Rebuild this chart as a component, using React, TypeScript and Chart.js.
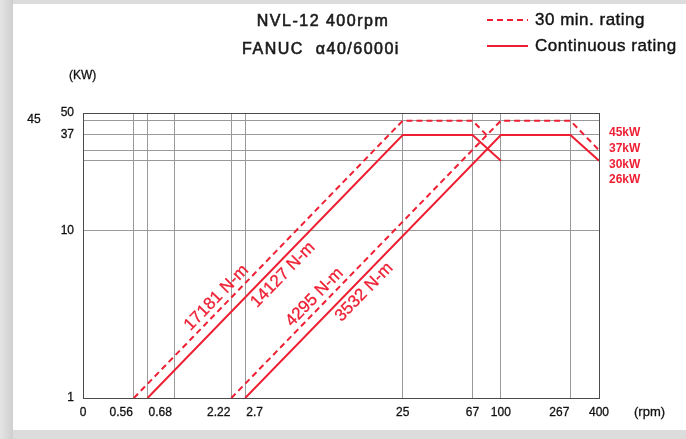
import React, { useEffect, useRef } from 'react';
import { Chart, registerables } from 'chart.js';

Chart.register(...registerables);

const RED = '#ee1f33';
const FONT = "'Liberation Sans', Arial, sans-serif";

// X axis (rpm, logarithmic). The left end is labelled "0".
const rpmMin = 0.273;
const rpmMax = 400;
const rpmTicks = [0.273, 0.56, 0.68, 1, 2.22, 2.7, 25, 67, 100, 267, 400];
const rpmTickLabels = ['0', '0.56', '0.68', '', '2.22', '2.7', '25', '67', '100', '267', '400'];
const rpmTickAlign = ['center', 'right', 'left', 'center', 'right', 'left', 'center', 'center', 'center', 'right', 'center'];

// Y axis (kW, logarithmic)
const kwMin = 1;
const kwMax = 50;
const kwTicks = [1, 10, 26, 30, 37, 45, 50];
const kwTickLabels = ['1', '10', '', '', '37', '', '50'];
const kwOuterTick = 45;

// Low gear
const lowDashedRpm = [0.56, 25, 67, 82];
const lowDashedKw = [1, 45, 45, 36.8];
const lowSolidRpm = [0.68, 25, 67, 100];
const lowSolidKw = [1, 37, 37, 26];
// High gear
const highDashedRpm = [2.22, 100, 267, 400];
const highDashedKw = [1, 45, 45, 30];
const highSolidRpm = [2.7, 100, 267, 400];
const highSolidKw = [1, 37, 37, 26];

// Torque labels along the rising lines: [dataset index, rpm position, side (1 above, -1 below)]
const torqueTexts = ['17181 N-m', '14127 N-m', '4295 N-m', '3532 N-m'];
const torqueDataset = [0, 1, 2, 3];
const torqueRpm = [2.0, 4.1, 8.0, 12.9];
const torqueSide = [1, -1, 1, -1];

const rightLabels = ['45kW', '37kW', '30kW', '26kW'];

const titleLines = ['NVL-12 400rpm', 'FANUC  \u03b140/6000i'];
const legendLabels = ['30 min. rating', 'Continuous rating'];

const toPts = (xs: number[], ys: number[]) => xs.map((x, i) => ({ x, y: ys[i] }));

const heavyText = (ctx: any, t: string, x: number, y: number, w: number) => {
  ctx.lineWidth = w;
  ctx.strokeStyle = ctx.fillStyle;
  ctx.strokeText(t, x, y);
  ctx.fillText(t, x, y);
};

const decorPlugin = {
  id: 'decor',
  beforeDraw(chart: any) {
    const { ctx, width, height } = chart;
    ctx.save();
    ctx.fillStyle = '#dcdcdc';
    ctx.fillRect(0, 0, width, height);
    const g = ctx.createLinearGradient(0, 0, 13, 0);
    g.addColorStop(0, '#e4e4e4');
    g.addColorStop(1, '#cfcfcf');
    ctx.fillStyle = g;
    ctx.fillRect(0, 0, 13, height);
    ctx.fillStyle = '#ffffff';
    ctx.fillRect(13, 4, width - 13, 426);
    ctx.restore();
  },
  afterDatasetsDraw(chart: any) {
    const { ctx, chartArea } = chart;
    const xs = chart.scales.x;
    const ys = chart.scales.y;
    ctx.save();
    // plot border
    ctx.strokeStyle = '#4a4a4a';
    ctx.lineWidth = 1;
    ctx.strokeRect(
      Math.round(chartArea.left) + 0.5,
      Math.round(chartArea.top) + 0.5,
      Math.round(chartArea.right - chartArea.left),
      Math.round(chartArea.bottom - chartArea.top)
    );

    // x tick labels
    ctx.fillStyle = '#111111';
    ctx.font = `12px ${FONT}`;
    ctx.textBaseline = 'middle';
    rpmTicks.forEach((v, i) => {
      const lbl = rpmTickLabels[i];
      if (!lbl) return;
      const px = xs.getPixelForValue(v);
      const al = rpmTickAlign[i];
      ctx.textAlign = al;
      const dx = al === 'right' ? -1 : al === 'left' ? 1 : 0;
      heavyText(ctx, lbl, px + dx, chartArea.bottom + 15, 0.3);
    });
    ctx.textAlign = 'left';
    ctx.font = `13px ${FONT}`;
    heavyText(ctx, '(rpm)', chartArea.right + 35, chartArea.bottom + 14, 0.3);

    // y tick labels
    ctx.font = `12px ${FONT}`;
    ctx.textAlign = 'right';
    kwTicks.forEach((v, i) => {
      const lbl = kwTickLabels[i];
      if (!lbl) return;
      heavyText(ctx, lbl, chartArea.left - 9, ys.getPixelForValue(v), 0.3);
    });
    ctx.textAlign = 'center';
    heavyText(ctx, String(kwOuterTick), 34, ys.getPixelForValue(kwOuterTick) - 1, 0.3);
    ctx.font = `12px ${FONT}`;
    ctx.textAlign = 'left';
    heavyText(ctx, '(KW)', 69, 76, 0.3);

    // torque labels
    ctx.fillStyle = RED;
    ctx.font = `17px ${FONT}`;
    torqueTexts.forEach((t, i) => {
      const ds = chart.data.datasets[torqueDataset[i]].data;
      const p0 = ds[0];
      const p1 = ds[1];
      const f = Math.log(torqueRpm[i] / p0.x) / Math.log(p1.x / p0.x);
      const kw = Math.exp(Math.log(p0.y) + f * (Math.log(p1.y) - Math.log(p0.y)));
      const px = xs.getPixelForValue(torqueRpm[i]);
      const py = ys.getPixelForValue(kw);
      const ang = Math.atan2(
        ys.getPixelForValue(p1.y) - ys.getPixelForValue(p0.y),
        xs.getPixelForValue(p1.x) - xs.getPixelForValue(p0.x)
      );
      ctx.save();
      ctx.translate(px, py);
      ctx.rotate(ang);
      ctx.textAlign = 'center';
      if (torqueSide[i] > 0) {
        ctx.textBaseline = 'bottom';
        heavyText(ctx, t, 0, -2, 0.3);
      } else {
        ctx.textBaseline = 'top';
        heavyText(ctx, t, 0, 3, 0.3);
      }
      ctx.restore();
    });

    // right kW labels
    ctx.font = `bold 12px ${FONT}`;
    ctx.textAlign = 'left';
    ctx.textBaseline = 'middle';
    rightLabels.forEach((t, i) => {
      ctx.fillText(t, chartArea.right + 10, chartArea.top + 20 + i * 15.7);
    });

    // title
    ctx.fillStyle = '#1a1a1a';
    ctx.font = `16px ${FONT}`;
    ctx.textAlign = 'center';
    (ctx as any).letterSpacing = '1.5px';
    heavyText(ctx, titleLines[0], 323, 22, 0.6);
    heavyText(ctx, titleLines[1], 321, 50, 0.6);
    (ctx as any).letterSpacing = '0px';

    // legend
    ctx.strokeStyle = RED;
    ctx.lineWidth = 2;
    ctx.setLineDash([6, 4]);
    ctx.beginPath();
    ctx.moveTo(487, 20);
    ctx.lineTo(528, 20);
    ctx.stroke();
    ctx.setLineDash([]);
    ctx.beginPath();
    ctx.moveTo(487, 46);
    ctx.lineTo(528, 46);
    ctx.stroke();
    ctx.fillStyle = '#111111';
    ctx.font = `17px ${FONT}`;
    ctx.textAlign = 'left';
    (ctx as any).letterSpacing = '0.5px';
    heavyText(ctx, legendLabels[0], 535, 20, 0.4);
    heavyText(ctx, legendLabels[1], 535, 46, 0.4);
    (ctx as any).letterSpacing = '0px';
    ctx.restore();
  },
};

export default function App() {
  const ref = useRef<HTMLCanvasElement | null>(null);

  useEffect(() => {
    if (!ref.current) return;
    const dashed = { borderColor: RED, borderWidth: 2, borderDash: [6, 4], pointRadius: 0, fill: false, tension: 0 };
    const solid = { borderColor: RED, borderWidth: 2, pointRadius: 0, fill: false, tension: 0 };
    const chart = new Chart(ref.current, {
      type: 'line',
      data: {
        datasets: [
          { label: 'low 30 min', data: toPts(lowDashedRpm, lowDashedKw), ...dashed },
          { label: 'low cont', data: toPts(lowSolidRpm, lowSolidKw), ...solid },
          { label: 'high 30 min', data: toPts(highDashedRpm, highDashedKw), ...dashed },
          { label: 'high cont', data: toPts(highSolidRpm, highSolidKw), ...solid },
        ],
      },
      options: {
        responsive: false,
        animation: false,
        events: [],
        layout: { padding: { top: 113, right: 87, left: 0, bottom: 0 } },
        plugins: {
          legend: { display: false },
          title: { display: false },
          tooltip: { enabled: false },
        },
        scales: {
          x: {
            type: 'logarithmic',
            min: rpmMin,
            max: rpmMax,
            afterBuildTicks: (s: any) => {
              s.ticks = rpmTicks.map((v) => ({ value: v }));
            },
            afterFit: (s: any) => {
              s.height = 41;
            },
            ticks: { display: false },
            grid: { color: '#999999', lineWidth: 1, drawTicks: false },
            border: { display: false },
          },
          y: {
            type: 'logarithmic',
            min: kwMin,
            max: kwMax,
            afterBuildTicks: (s: any) => {
              s.ticks = kwTicks.map((v) => ({ value: v }));
            },
            afterFit: (s: any) => {
              s.width = 83;
            },
            ticks: { display: false },
            grid: { color: '#999999', lineWidth: 1, drawTicks: false },
            border: { display: false },
          },
        },
      } as any,
      plugins: [decorPlugin],
    });
    return () => chart.destroy();
  }, []);

  return (
    <div style={{ position: 'fixed', left: 0, top: 0, width: 686, height: 439, background: '#dcdcdc' }}>
      <canvas ref={ref} width={686} height={439} style={{ display: 'block', width: 686, height: 439 }} />
    </div>
  );
}
